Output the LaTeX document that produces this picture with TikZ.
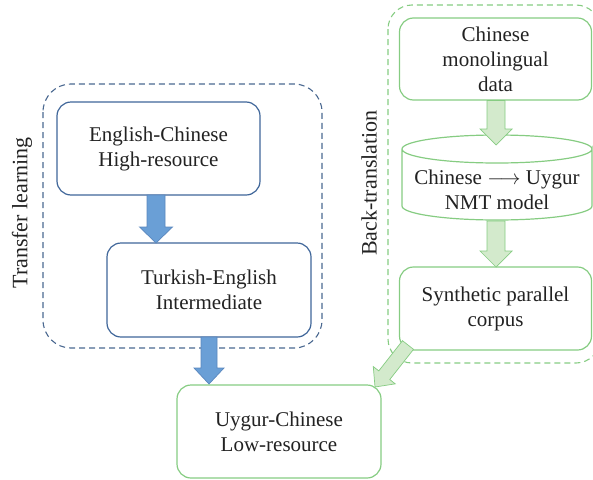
\documentclass[tikz,border=0pt]{standalone}
\usepackage{fontspec}
\setmainfont{Liberation Serif}
\usetikzlibrary{calc}
\definecolor{bborder}{HTML}{3F6699}
\definecolor{bdash}{HTML}{4A6890}
\definecolor{bfill}{HTML}{6A9FD6}
\definecolor{barrowb}{HTML}{5A87BE}
\definecolor{gborder}{HTML}{86CC82}
\definecolor{gfill}{HTML}{D3EACC}
\definecolor{gdash}{HTML}{86CC82}
\definecolor{txt}{HTML}{222222}
\tikzset{
  box/.style={draw, line width=1.2pt, rounded corners=14pt, align=center, text=txt,
    font=\fontsize{21}{25}\selectfont},
  bluebox/.style={box, draw=bborder},
  greenbox/.style={box, draw=gborder},
  container/.style={line width=1.1pt, dash pattern=on 6pt off 4pt, rounded corners=28pt},
  barrow/.style={fill=bfill, draw=barrowb, line width=0.7pt},
  garrow/.style={fill=gfill, draw=gborder, line width=0.7pt},
  sidelabel/.style={text=txt, font=\fontsize{22}{26}\selectfont, rotate=90}
}
% #1 style, #2 from, #3 to, #4 half shaft, #5 half head, #6 head length
\newcommand\blockarr[6]{%
  \coordinate (hh) at ($(#3)!#6!(#2)$);
  \draw[#1] ($(#2)!#4!90:(#3)$) -- ($(hh)!#4!90:(#3)$) -- ($(hh)!#5!90:(#3)$) -- (#3)
    -- ($(hh)!#5!-90:(#3)$) -- ($(hh)!#4!-90:(#3)$) -- ($(#2)!#4!-90:(#3)$) -- cycle;
}
\begin{document}
\begin{tikzpicture}[x=1pt,y=-1pt]
\useasboundingbox (0,0) rectangle (593,479);
% containers
\draw[container, draw=bdash] (43,84) rectangle (322,348);
\draw[container, draw=gdash, rounded corners=24pt] (388,5) rectangle (600,363);
\node[sidelabel] (tl) at (22,213) {Transfer learning};
\node[sidelabel] (bt) at (369,183) {Back-translation};
% left boxes
\node[bluebox, minimum width=203pt, minimum height=93pt] (ec) at (158.5,148.5) {English-Chinese\\High-resource};
\node[bluebox, minimum width=204pt, minimum height=94pt] (te) at (209,290) {Turkish-English\\Intermediate};
\node[greenbox, minimum width=204pt, minimum height=93pt] (uc) at (279,431.5) {Uygur-Chinese\\Low-resource};
% right boxes
\node[greenbox, minimum width=192pt, minimum height=82pt] (cm) at (495.5,59) {Chinese\\monolingual\\data};
\node[greenbox, minimum width=192pt, minimum height=83pt] (sp) at (495.5,308.5) {Synthetic parallel\\corpus};
% cylinder
\draw[gborder, line width=1.2pt, fill=white] (402,149) -- (402,206) arc[start angle=180, end angle=360, x radius=95pt, y radius=14pt] -- (592,149) arc[start angle=0, end angle=-360, x radius=95pt, y radius=14pt];
\node[text=txt, font=\fontsize{21}{25}\selectfont, align=center, minimum width=190pt, minimum height=85pt] (nmt) at (497,190) {Chinese $\longrightarrow$ Uygur\\NMT model};
% arrows
\coordinate (a1s) at (156,195); \coordinate (a1e) at (156,243);
\blockarr{barrow}{a1s}{a1e}{9pt}{16.5pt}{16pt}
\coordinate (a2s) at (209,337); \coordinate (a2e) at (209,384);
\blockarr{barrow}{a2s}{a2e}{8pt}{15pt}{16pt}
\coordinate (a3s) at (496,100.5); \coordinate (a3e) at (496,145);
\blockarr{garrow}{a3s}{a3e}{9pt}{16pt}{16pt}
\coordinate (a4s) at (496,221); \coordinate (a4e) at (496,267);
\blockarr{garrow}{a4s}{a4e}{9pt}{16pt}{16pt}
\coordinate (a5s) at (408,345); \coordinate (a5e) at (375,387);
\blockarr{garrow}{a5s}{a5e}{7pt}{14pt}{15pt}
\end{tikzpicture}
\end{document}
